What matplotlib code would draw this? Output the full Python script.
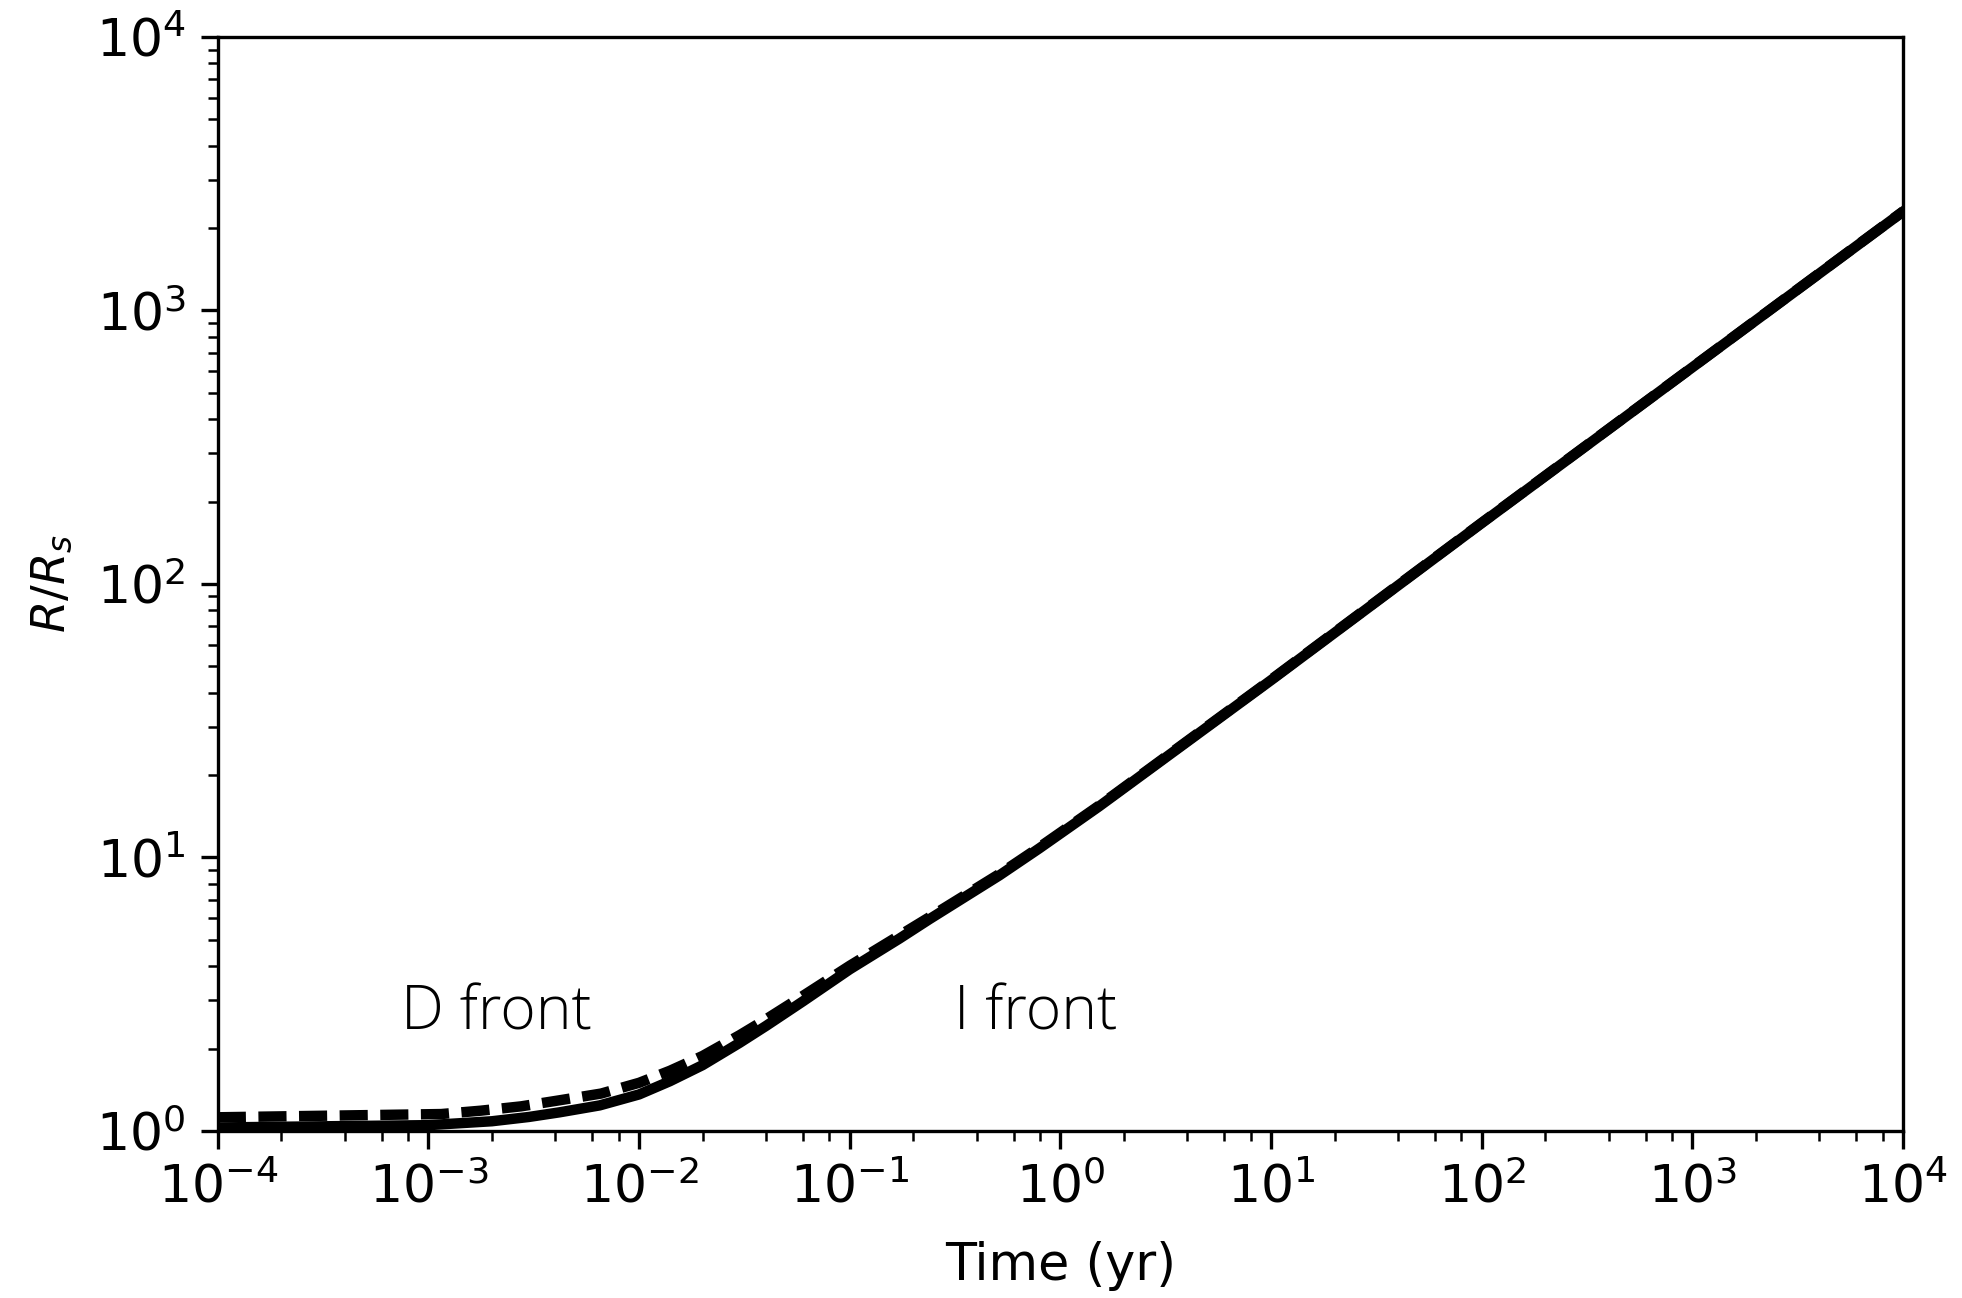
import matplotlib
matplotlib.use("Agg")
import matplotlib.pyplot as plt
import matplotlib.ticker as mticker
import numpy as np

# Time (yr) and R/Rs
t_solid = [1e-4, 1e-3, 2e-3, 3e-3, 4.2e-3, 6.5e-3, 1e-2, 1.4e-2, 2e-2, 3e-2, 4e-2, 6e-2,
           0.1, 0.172, 0.239, 0.513, 0.794, 1.53, 10.0, 100.0, 1000.0, 10000.0]
r_solid = [1.03, 1.05, 1.085, 1.125, 1.17, 1.24, 1.36, 1.52, 1.74, 2.10, 2.42, 2.98,
           3.90, 5.05, 5.95, 8.6, 10.8, 15.4, 44.5, 167.0, 620.0, 2300.0]

t_dashed = [1e-4, 1.15e-3, 1.77e-3, 2.75e-3, 4.2e-3, 6.6e-3, 1e-2, 1.4e-2, 2e-2, 3e-2, 4e-2, 6e-2,
            0.1, 0.239, 0.513, 0.794, 1.53, 10.0, 100.0, 1000.0, 10000.0]
r_dashed = [1.122, 1.153, 1.186, 1.23, 1.295, 1.37, 1.50, 1.66, 1.88, 2.24, 2.56, 3.12,
            4.02, 6.05, 8.7, 10.9, 15.5, 44.7, 167.5, 621.0, 2305.0]

labels = ["D front", "I front"]

fig = plt.figure(figsize=(1962/300, 1298/300), dpi=300)
ax = fig.add_axes([0.111, 0.1287, 0.859, 0.8428])

ax.plot(t_dashed, r_dashed, color="black", lw=2.5, ls=(0, (2.7, 1.2)))
ax.plot(t_solid, r_solid, color="black", lw=2.5)

ax.set_xscale("log")
ax.set_yscale("log")
ax.set_xlim(1e-4, 1e4)
ax.set_ylim(1, 1e4)
ax.xaxis.set_major_locator(mticker.LogLocator(base=10, numticks=20))
ax.xaxis.set_minor_locator(mticker.LogLocator(base=10, subs=[2, 4, 6, 8], numticks=40))
ax.xaxis.set_minor_formatter(mticker.NullFormatter())
ax.yaxis.set_minor_locator(mticker.LogLocator(base=10, subs=np.arange(2, 10), numticks=40))
ax.yaxis.set_minor_formatter(mticker.NullFormatter())

for s in ax.spines.values():
    s.set_linewidth(0.8)
ax.tick_params(which="major", length=4.2, width=0.8, labelsize=12.5)
ax.tick_params(which="minor", length=2.4, width=0.6)

ax.set_xlabel("Time (yr)", fontsize=12.2, labelpad=6.5)
ax.set_ylabel("$R/R_s$", fontsize=11.2, labelpad=5)

for xf, lab in zip([0.1086, 0.437], labels):
    ax.text(xf, 0.0923, lab, transform=ax.transAxes, fontsize=14.6,
            family=["Open Sans", "DejaVu Sans"], fontweight="light",
            ha="left", va="baseline", color="black")

fig.savefig("out.png", dpi=300)
